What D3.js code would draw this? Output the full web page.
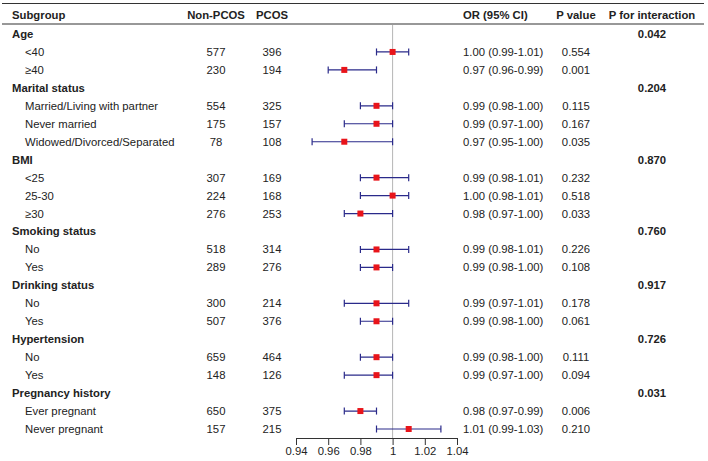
<!DOCTYPE html>
<html>
<head>
<meta charset="utf-8">
<script src="https://cdn.jsdelivr.net/npm/d3@7"></script>
<style>
  html, body { margin: 0; padding: 0; background: #fff; }
  svg { display: block; }
  text { font-family: "Liberation Sans", Arial, sans-serif; fill: #222; }
</style>
</head>
<body>
<svg id="chart" width="708" height="461"></svg>
<script>
const groups = ["Age", "Marital status", "BMI", "Smoking status", "Drinking status", "Hypertension", "Pregnancy history"];
const pInteraction = ["0.042", "0.204", "0.870", "0.760", "0.917", "0.726", "0.031"];
const subLabels = ["<40", "≥40", "Married/Living with partner", "Never married", "Widowed/Divorced/Separated",
  "<25", "25-30", "≥30", "No", "Yes", "No", "Yes", "No", "Yes", "Ever pregnant", "Never pregnant"];
const subGroupIndex = [0, 0, 1, 1, 1, 2, 2, 2, 3, 3, 4, 4, 5, 5, 6, 6];
const nonPCOS = [577, 230, 554, 175, 78, 307, 224, 276, 518, 289, 300, 507, 659, 148, 650, 157];
const pcos = [396, 194, 325, 157, 108, 169, 168, 253, 314, 276, 214, 376, 464, 126, 375, 215];
const orVal = [1.00, 0.97, 0.99, 0.99, 0.97, 0.99, 1.00, 0.98, 0.99, 0.99, 0.99, 0.99, 0.99, 0.99, 0.98, 1.01];
const ciLow = [0.99, 0.96, 0.98, 0.97, 0.95, 0.98, 0.98, 0.97, 0.98, 0.98, 0.97, 0.98, 0.98, 0.97, 0.97, 0.99];
const ciHigh = [1.01, 0.99, 1.00, 1.00, 1.00, 1.01, 1.01, 1.00, 1.01, 1.00, 1.01, 1.00, 1.00, 1.00, 0.99, 1.03];
const pValue = ["0.554", "0.001", "0.115", "0.167", "0.035", "0.232", "0.518", "0.033", "0.226", "0.108",
  "0.178", "0.061", "0.111", "0.094", "0.006", "0.210"];
const xTicks = [0.94, 0.96, 0.98, 1, 1.02, 1.04];
const headers = ["Subgroup", "Non-PCOS", "PCOS", "OR (95% CI)", "P value", "P for interaction"];

// Build row list: group header rows followed by their subgroups
const rows = [];
groups.forEach((g, gi) => {
  rows.push({ type: "group", label: g, pint: pInteraction[gi] });
  subLabels.forEach((s, i) => {
    if (subGroupIndex[i] === gi) {
      rows.push({ type: "sub", label: s, n0: nonPCOS[i], n1: pcos[i], or: orVal[i], lo: ciLow[i], hi: ciHigh[i], p: pValue[i] });
    }
  });
});

const svg = d3.select("#chart");
const fs = 11.3;
const y = d3.scalePoint().domain(d3.range(rows.length)).range([34, 429]);
const x = d3.scaleLinear().domain([0.94, 1.04]).range([296, 457]);

const col = { sub: 12, subIndent: 25, n0: 216, n1: 272, orc: 463, p: 576, pint: 652 };
const lineColor = "#333";

// Top and header lines
svg.append("line").attr("x1", 2).attr("x2", 704).attr("y1", 3.5).attr("y2", 3.5)
  .attr("stroke", lineColor).attr("stroke-width", 1.2);
svg.append("line").attr("x1", 2).attr("x2", 704).attr("y1", 24).attr("y2", 24)
  .attr("stroke", lineColor).attr("stroke-width", 1.2);

// Headers
const hy = 15;
const hdr = svg.append("g").attr("font-weight", "bold").attr("font-size", fs);
hdr.append("text").attr("x", col.sub).attr("y", hy).attr("dy", "0.35em").text(headers[0]);
hdr.append("text").attr("x", col.n0).attr("y", hy).attr("dy", "0.35em").attr("text-anchor", "middle").text(headers[1]);
hdr.append("text").attr("x", col.n1).attr("y", hy).attr("dy", "0.35em").attr("text-anchor", "middle").text(headers[2]);
hdr.append("text").attr("x", col.orc).attr("y", hy).attr("dy", "0.35em").text(headers[3]);
hdr.append("text").attr("x", col.p).attr("y", hy).attr("dy", "0.35em").attr("text-anchor", "middle").text(headers[4]);
hdr.append("text").attr("x", col.pint).attr("y", hy).attr("dy", "0.35em").attr("text-anchor", "middle").text(headers[5]);

// Reference line at OR = 1
svg.append("line").attr("x1", x(1)).attr("x2", x(1)).attr("y1", 25).attr("y2", 438)
  .attr("stroke", "#b5b5b5").attr("stroke-width", 1);

// Rows
const rg = svg.append("g").attr("font-size", fs);
rows.forEach((r, i) => {
  const yy = y(i);
  if (r.type === "group") {
    rg.append("text").attr("x", col.sub).attr("y", yy).attr("dy", "0.35em").attr("font-weight", "bold").text(r.label);
    rg.append("text").attr("x", col.pint).attr("y", yy).attr("dy", "0.35em").attr("font-weight", "bold")
      .attr("text-anchor", "middle").text(r.pint);
  } else {
    rg.append("text").attr("x", col.subIndent).attr("y", yy).attr("dy", "0.35em").text(r.label);
    rg.append("text").attr("x", col.n0).attr("y", yy).attr("dy", "0.35em").attr("text-anchor", "middle").text(r.n0);
    rg.append("text").attr("x", col.n1).attr("y", yy).attr("dy", "0.35em").attr("text-anchor", "middle").text(r.n1);
    rg.append("text").attr("x", col.orc).attr("y", yy).attr("dy", "0.35em")
      .text(`${r.or.toFixed(2)} (${r.lo.toFixed(2)}-${r.hi.toFixed(2)})`);
    rg.append("text").attr("x", col.p).attr("y", yy).attr("dy", "0.35em").attr("text-anchor", "middle").text(r.p);

    const ec = "#2a2a8a";
    rg.append("line").attr("x1", x(r.lo)).attr("x2", x(r.hi)).attr("y1", yy).attr("y2", yy)
      .attr("stroke", ec).attr("stroke-width", 1.2);
    [r.lo, r.hi].forEach(v => {
      rg.append("line").attr("x1", x(v)).attr("x2", x(v)).attr("y1", yy - 3.5).attr("y2", yy + 3.5)
        .attr("stroke", ec).attr("stroke-width", 1.2);
    });
    rg.append("rect").attr("x", x(r.or) - 3).attr("y", yy - 3).attr("width", 6).attr("height", 6)
      .attr("fill", "#e8141a");
  }
});

// Axis
const axis = d3.axisBottom(x).tickValues(xTicks).tickSize(7).tickSizeOuter(0)
  .tickFormat(d => String(+d.toFixed(2)));
const ag = svg.append("g").attr("transform", "translate(0,438)").call(axis);
ag.select(".domain").attr("stroke", lineColor);
ag.selectAll(".tick line").attr("stroke", lineColor);
ag.selectAll(".tick text").attr("font-size", fs).attr("font-family", "'Liberation Sans', Arial, sans-serif")
  .attr("fill", "#222").attr("y", 9);
</script>
</body>
</html>
